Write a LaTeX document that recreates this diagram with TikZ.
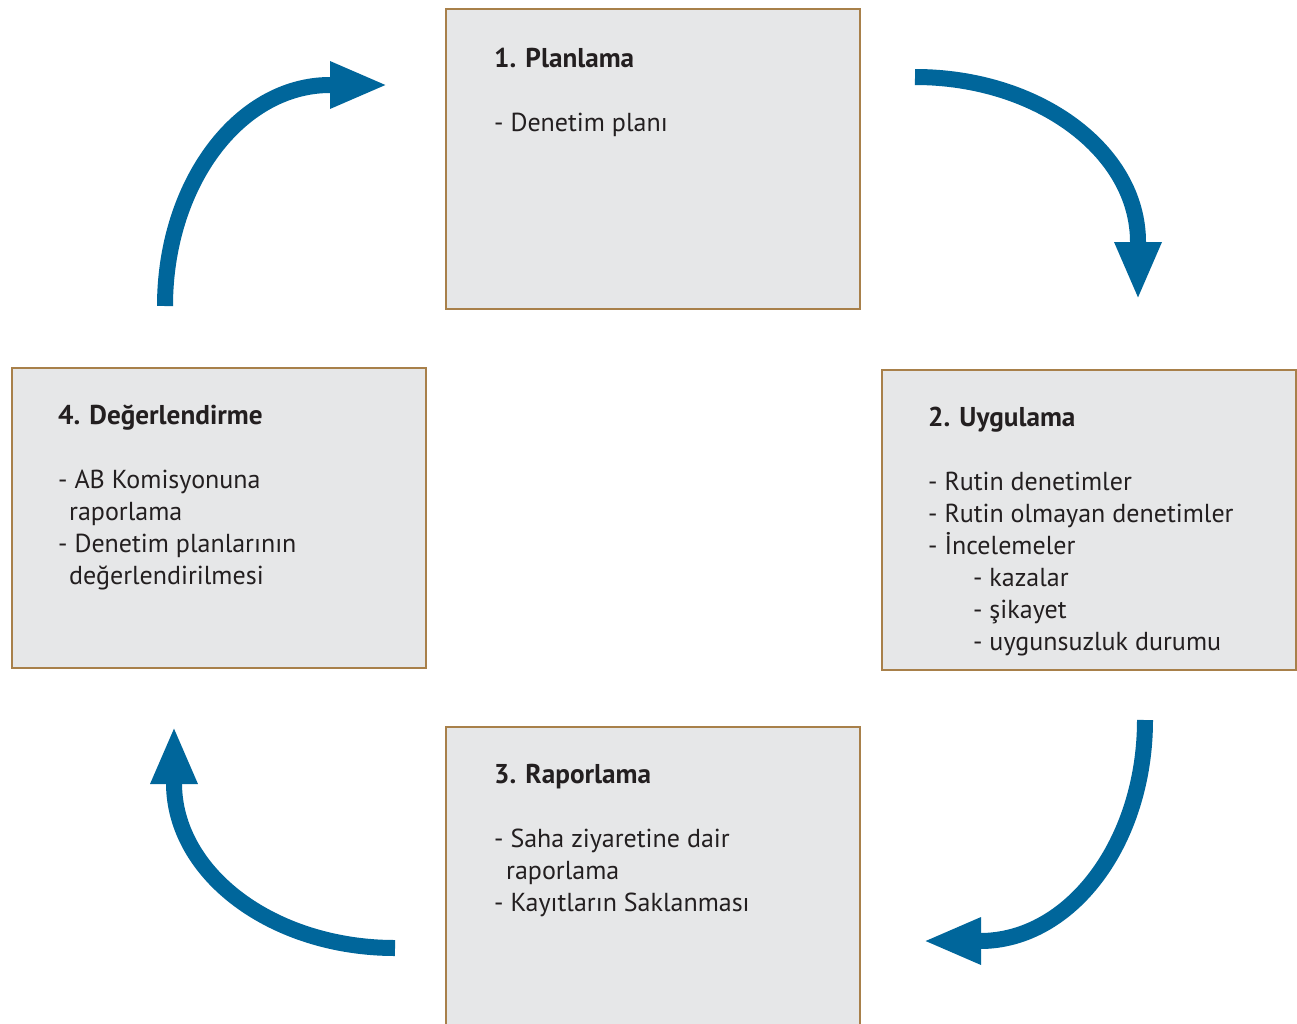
\documentclass[tikz,border=0pt]{standalone}
\usepackage{fontspec}
\setmainfont{PT Sans}
\usetikzlibrary{arrows.meta}
\definecolor{cyclefill}{HTML}{E6E7E8}
\definecolor{cycleedge}{HTML}{A8804A}
\definecolor{cycleblue}{HTML}{00669B}
\definecolor{cycletext}{HTML}{231F20}
% a block of lines whose baseline is that of its first line
\newcommand{\stagelines}[1]{\parbox[t]{360pt}{\raggedright\fontsize{26}{32}\selectfont #1}}
\begin{document}
\begin{tikzpicture}[x=1pt,y=-1pt,
  stagebox/.style={draw=cycleedge, fill=cyclefill, line width=2pt,
    minimum width=414pt, minimum height=300pt, anchor=north west, inner sep=0pt},
  stagetitle/.style={anchor=base west, inner sep=0pt, text=cycletext,
    font=\fontsize{27.2}{32}\selectfont\bfseries},
  stagetext/.style={anchor=base west, inner sep=0pt, text=cycletext},
  cyclearrow/.style={draw=cycleblue, line width=16pt,
    -{Triangle[width=43pt,length=58pt]}}]
\useasboundingbox (0,0) rectangle (1297,1023);
\fill[white] (0,0) rectangle (1297,1023);

% the four stages of the cycle
\node[stagebox] (plan) at (445,8) {};
\node[stagebox] (impl) at (881,369) {};
\node[stagebox] (report) at (445,726) {};
\node[stagebox] (eval) at (11,367) {};

% stage 1
\node[stagetitle] (plant) at (494,67) {1. Planlama};
\node[stagetext] (planb) at (494,131) {\stagelines{- Denetim planı}};

% stage 2
\node[stagetitle] (implt) at (928,426) {2. Uygulama};
\node[stagetext] (implb) at (928,490) {\stagelines{- Rutin denetimler\\
- Rutin olmayan denetimler\\
- İncelemeler\\
\hspace*{45pt}- kazalar\\
\hspace*{45pt}- şikayet\\
\hspace*{45pt}- uygunsuzluk durumu}};

% stage 3
\node[stagetitle] (reportt) at (494,783) {3. Raporlama};
\node[stagetext] (reportb) at (494,847) {\stagelines{- Saha ziyaretine dair\\
\hspace*{12pt}raporlama\\
- Kayıtların Saklanması}};

% stage 4
\node[stagetitle] (evalt) at (58,424) {4. Değerlendirme};
\node[stagetext] (evalb) at (58,488) {\stagelines{- AB Komisyonuna\\
\hspace*{11pt}raporlama\\
- Denetim planlarının\\
\hspace*{11pt}değerlendirilmesi}};

% arrow end points
\coordinate (a1s) at (915,77);
\coordinate (a1e) at (1138,300);
\coordinate (a2s) at (1145,720);
\coordinate (a2e) at (923,941);
\coordinate (a3s) at (395,948);
\coordinate (a3e) at (174,726);
\coordinate (a4s) at (165,306);
\coordinate (a4e) at (388,85);

% curved arrows running clockwise between the stages
\draw[cyclearrow] (a1s) .. controls (1038,77) and (1138,151) .. (1138,242) -- (a1e);
\draw[cyclearrow] (a2s) .. controls (1145,842) and (1071,941) .. (980,941) -- (a2e);
\draw[cyclearrow] (a3s) .. controls (273,948) and (174,874) .. (174,783) -- (a3e);
\draw[cyclearrow] (a4s) .. controls (165,184) and (239,85) .. (330,85) -- (a4e);
\end{tikzpicture}
\end{document}
